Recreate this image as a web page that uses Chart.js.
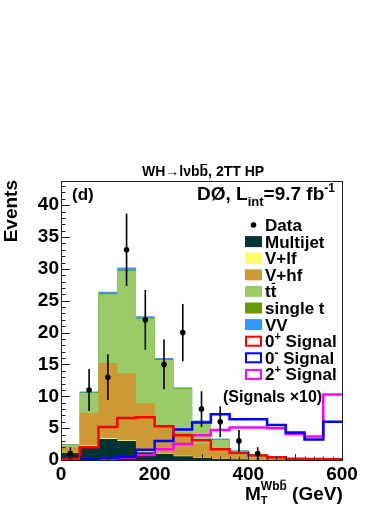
<!DOCTYPE html>
<html lang="en">
<head>
    <meta charset="UTF-8">
    <title>WH -> lvbb, 2TT HP</title>
    <script src="https://cdn.jsdelivr.net/npm/chart.js"></script>
    <style>
        html, body { margin: 0; padding: 0; background: #fff; }
        #wrap { width: 390px; height: 505px; }
    </style>
</head>
<body>
    <div id="wrap"><canvas id="mtChart" width="390" height="505"></canvas></div>
    <script>
        // bin edges in GeV (15 bins of 40 GeV)
        const binEdges = [0, 40, 80, 120, 160, 200, 240, 280, 320, 360, 400, 440, 480, 520, 560, 600];

        // background contributions per bin (events)
        const multijet  = [1.1, 2.2, 3.3, 3.0, 1.2, 1.0, 0.6, 0.3, 0.15, 0.1, 0.05, 0.03, 0.02, 0.01, 0.01];
        const vlf       = [0.05, 0.1, 0.12, 0.12, 0.12, 0.1, 0.08, 0.05, 0.04, 0.02, 0.01, 0.01, 0.01, 0.0, 0.0];
        const vhf       = [0.85, 5.1, 11.8, 10.5, 7.6, 4.4, 3.6, 2.25, 1.6, 0.68, 0.34, 0.26, 0.1, 0.06, 0.04];
        const ttbar     = [0.4, 3.1, 10.8, 16.1, 13.3, 10.2, 6.9, 3.45, 1.4, 0.57, 0.47, 0.13, 0.06, 0.03, 0.02];
        const singleTop = [0.02, 0.1, 0.1, 0.1, 0.1, 0.1, 0.1, 0.05, 0.05, 0.03, 0.03, 0.02, 0.01, 0.01, 0.0];
        const diboson   = [0.05, 0.15, 0.3, 0.4, 0.25, 0.2, 0.1, 0.1, 0.15, 0.15, 0.05, 0.03, 0.02, 0.01, 0.0];

        // signals (x10)
        const sig0plus  = [0.1, 2.0, 5.2, 6.6, 6.7, 5.3, 3.9, 3.1, 1.7, 1.1, 0.7, 0.45, 0.2, 0.15, 0.1];
        const sig0minus = [0.05, 0.1, 0.3, 0.5, 1.6, 3.0, 4.8, 5.9, 7.2, 6.4, 6.4, 5.5, 4.3, 3.2, 6.0];
        const sig2plus  = [0.0, 0.05, 0.1, 0.4, 0.8, 1.7, 2.5, 3.9, 4.7, 5.1, 5.1, 5.0, 4.1, 3.7, 10.3];

        // data
        const dataX   = [20, 60, 100, 140, 180, 220, 260, 300, 340, 380, 420];
        const dataY   = [1, 11, 13, 33, 22, 15, 20, 8, 6, 3, 1];
        const dataErr = [1.0, 3.3, 3.6, 5.7, 4.7, 3.9, 4.5, 2.8, 2.4, 1.7, 1.0];

        const FONT = "'Liberation Sans', Arial, Helvetica, sans-serif";

        function histPoints(values) {
            return binEdges.map((e, i) => ({ x: e, y: values[Math.min(i, values.length - 1)] }));
        }

        // stack from the bottom up
        const layers = [
            { label: 'Multijet', values: multijet,  color: '#003333' },
            { label: 'V+lf',     values: vlf,       color: '#ffff66' },
            { label: 'V+hf',     values: vhf,       color: '#cc9933' },
            { label: 'ttbar',    values: ttbar,     color: '#99cc66' },
            { label: 'single t', values: singleTop, color: '#669900' },
            { label: 'VV',       values: diboson,   color: '#3399ff' }
        ];
        let running = binEdges.slice(0, -1).map(() => 0);
        const stackSets = layers.map(l => {
            running = running.map((v, i) => v + l.values[i]);
            return {
                label: l.label,
                data: histPoints(running),
                stepped: true,
                fill: 'origin',
                backgroundColor: l.color,
                borderColor: l.color,
                borderWidth: 0,
                pointRadius: 0
            };
        });

        function sigSet(label, values, color) {
            return {
                label: label,
                data: histPoints(values),
                stepped: true,
                fill: false,
                borderColor: color,
                borderWidth: 2.5,
                pointRadius: 0
            };
        }

        const dataSet = {
            label: 'Data',
            data: dataX.map((x, i) => ({ x: x, y: dataY[i] })),
            showLine: false,
            pointRadius: 2.8,
            pointBackgroundColor: '#000',
            pointBorderColor: '#000',
            pointBorderWidth: 0
        };

        // datasets with lower index are drawn on top, so the tallest
        // cumulative layer (VV) goes last and is painted first
        const datasets = [dataSet,
            sigSet('0+ Signal', sig0plus, '#ff0000'),
            sigSet('0- Signal', sig0minus, '#0000ff'),
            sigSet('2+ Signal', sig2plus, '#ff00ff')
        ].concat(stackSets);

        // draw a row of text pieces, returns end x
        function drawRuns(ctx, x, y, runs) {
            runs.forEach(r => {
                ctx.font = 'bold ' + r.size + 'px ' + FONT;
                const w = ctx.measureText(r.t).width;
                const by = y + (r.dy || 0);
                ctx.fillText(r.t, x, by);
                if (r.bar) {
                    ctx.fillRect(x + 1, by - r.size * 0.86, w - 2, Math.max(1, r.size * 0.07));
                }
                x += r.adv !== undefined ? r.adv : w;
            });
            return x;
        }

        const decorations = {
            id: 'decorations',
            afterDraw(chart) {
                const ctx = chart.ctx;
                const xs = chart.scales.x, ys = chart.scales.y;
                const a = chart.chartArea;
                ctx.save();
                ctx.fillStyle = '#000';
                ctx.strokeStyle = '#000';
                ctx.textAlign = 'left';
                ctx.textBaseline = 'alphabetic';

                // error bars
                ctx.lineWidth = 1.6;
                dataX.forEach((x, i) => {
                    const px = xs.getPixelForValue(x);
                    ctx.beginPath();
                    ctx.moveTo(px, ys.getPixelForValue(Math.max(0, dataY[i] - dataErr[i])));
                    ctx.lineTo(px, ys.getPixelForValue(dataY[i] + dataErr[i]));
                    ctx.stroke();
                });

                // frame
                ctx.lineWidth = 1;
                ctx.strokeStyle = '#222';
                ctx.strokeRect(Math.round(a.left) + 0.5, Math.round(a.top) + 0.5,
                    Math.round(a.right - a.left), Math.round(a.bottom - a.top));

                // inward ticks
                ctx.beginPath();
                for (let v = 0; v <= ys.max; v += 1) {
                    const py = Math.round(ys.getPixelForValue(v)) + 0.5;
                    const len = v % 5 === 0 ? 9 : 4.5;
                    ctx.moveTo(a.left, py);
                    ctx.lineTo(a.left + len, py);
                }
                for (let v = 0; v <= 600; v += 20) {
                    const px = Math.round(xs.getPixelForValue(v)) + 0.5;
                    const len = v % 200 === 0 ? 9 : (v % 100 === 0 ? 6 : 3.5);
                    ctx.moveTo(px, a.bottom);
                    ctx.lineTo(px, a.bottom - len);
                }
                ctx.stroke();

                // title
                drawRuns(ctx, 142, 176, [
                    { t: 'WH\u2192l\u03bdb', size: 14 },
                    { t: 'b', size: 14, bar: true },
                    { t: ', 2TT HP', size: 14 }
                ]);

                // (d) and lumi
                drawRuns(ctx, 72, 200, [{ t: '(d)', size: 17 }]);
                drawRuns(ctx, 197, 200, [
                    { t: 'D\u00d8, L', size: 19 },
                    { t: 'int', size: 13, dy: 6 },
                    { t: '=9.7 fb', size: 19 },
                    { t: '-1', size: 12, dy: -8 }
                ]);

                // legend
                const lx = 245, tx = 265, rowH = 16.6, y0 = 225;
                const rows = [
                    { kind: 'dot', runs: [{ t: 'Data', size: 17 }] },
                    { kind: 'fill', color: layers[0].color, runs: [{ t: 'Multijet', size: 17 }] },
                    { kind: 'fill', color: layers[1].color, runs: [{ t: 'V+lf', size: 17 }] },
                    { kind: 'fill', color: layers[2].color, runs: [{ t: 'V+hf', size: 17 }] },
                    { kind: 'fill', color: layers[3].color, runs: [{ t: 't', size: 17 }, { t: 't', size: 17, bar: true }] },
                    { kind: 'fill', color: layers[4].color, runs: [{ t: 'single t', size: 17 }] },
                    { kind: 'fill', color: layers[5].color, runs: [{ t: 'VV', size: 17 }] },
                    { kind: 'line', color: '#ff0000', runs: [{ t: '0', size: 17 }, { t: '+', size: 11, dy: -7 }, { t: ' Signal', size: 17 }] },
                    { kind: 'line', color: '#0000ff', runs: [{ t: '0', size: 17 }, { t: '-', size: 12, dy: -7 }, { t: ' Signal', size: 17 }] },
                    { kind: 'line', color: '#ff00ff', runs: [{ t: '2', size: 17 }, { t: '+', size: 11, dy: -7 }, { t: ' Signal', size: 17 }] }
                ];
                rows.forEach((r, i) => {
                    const cy = y0 + i * rowH;
                    if (r.kind === 'dot') {
                        ctx.beginPath();
                        ctx.arc(lx + 8.5, cy, 2.8, 0, Math.PI * 2);
                        ctx.fill();
                    } else if (r.kind === 'fill') {
                        ctx.fillStyle = r.color;
                        ctx.fillRect(lx, cy - 5.5, 17, 11);
                    } else {
                        ctx.fillStyle = '#fff';
                        ctx.fillRect(lx, cy - 5.5, 17, 11);
                        ctx.strokeStyle = r.color;
                        ctx.lineWidth = 2;
                        ctx.strokeRect(lx + 1, cy - 4.5, 15, 9);
                    }
                    ctx.fillStyle = '#000';
                    drawRuns(ctx, tx, cy + 6, r.runs);
                });
                drawRuns(ctx, 223, 402, [{ t: '(Signals \u00d710)', size: 16 }]);

                // axis titles
                drawRuns(ctx, 245, 500, [
                    { t: 'M', size: 19 },
                    { t: 'T', size: 11, dy: 4, adv: 0 },
                    { t: 'Wb', size: 12, dy: -10 },
                    { t: 'b', size: 12, dy: -10, bar: true },
                    { t: ' (GeV)', size: 19 }
                ]);

                ctx.translate(17, 180);
                ctx.rotate(-Math.PI / 2);
                ctx.textAlign = 'right';
                ctx.font = 'bold 19px ' + FONT;
                ctx.fillText('Events', 0, 0);
                ctx.restore();
            }
        };

        Chart.defaults.font.family = FONT;
        Chart.defaults.color = '#000';

        new Chart(document.getElementById('mtChart').getContext('2d'), {
            type: 'line',
            data: { datasets: datasets },
            options: {
                responsive: false,
                animation: false,
                events: [],
                layout: { padding: { top: 181, right: 48, left: 0, bottom: 0 } },
                plugins: {
                    legend: { display: false },
                    title: { display: false },
                    tooltip: { enabled: false }
                },
                scales: {
                    x: {
                        type: 'linear',
                        min: 0,
                        max: 600,
                        grid: { display: false, drawTicks: false },
                        border: { display: false },
                        ticks: {
                            stepSize: 200,
                            padding: 3,
                            maxRotation: 0,
                            autoSkip: false,
                            font: { size: 19, weight: 'bold' }
                        },
                        afterFit(scale) { scale.height = 45; }
                    },
                    y: {
                        min: 0,
                        max: 43.8,
                        grid: { display: false, drawTicks: false },
                        border: { display: false },
                        ticks: {
                            stepSize: 5,
                            padding: 2,
                            font: { size: 19, weight: 'bold' }
                        },
                        afterBuildTicks(scale) {
                            scale.ticks = scale.ticks.filter(t => t.value % 5 === 0);
                        },
                        afterFit(scale) { scale.width = 61; }
                    }
                }
            },
            plugins: [decorations]
        });
    </script>
</body>
</html>
